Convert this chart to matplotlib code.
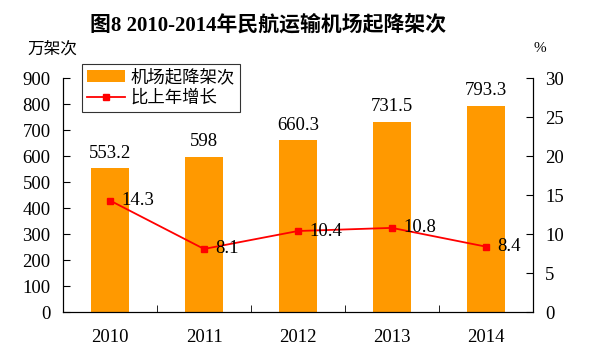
import matplotlib.pyplot as plt
import numpy as np

plt.rcParams['font.family'] = ['Liberation Serif', 'Noto Sans CJK SC']

years = ['2010', '2011', '2012', '2013', '2014']
flights = [553.2, 598, 660.3, 731.5, 793.3]
growth = [14.3, 8.1, 10.4, 10.8, 8.4]
flight_labels = ['553.2', '598', '660.3', '731.5', '793.3']

fig = plt.figure(figsize=(5.9, 3.58), dpi=100)
ax = fig.add_axes([0.107, 0.128, 0.796, 0.654])
ax2 = ax.twinx()

x = np.arange(len(years))
bars = ax.bar(x, flights, width=0.4, color='#FF9900', label='机场起降架次', zorder=2)
line, = ax2.plot(x, growth, color='#FF0000', marker='s', markersize=5, lw=1.3,
                 label='比上年增长', zorder=3)

ax.set_xlim(-0.5, 4.5)
ax.set_ylim(0, 900)
ax.set_yticks(range(0, 901, 100))
ax2.set_ylim(0, 30)
ax2.set_yticks(range(0, 31, 5))
ax.set_xticks(x)
ax.set_xticklabels(years)
ax.set_xticks(np.arange(0.5, 4.5, 1), minor=True)

ax.tick_params(axis='x', which='major', length=0, labelsize=13.5, pad=12)
ax.tick_params(axis='x', which='minor', length=5, direction='in')
ax.tick_params(axis='y', direction='in', length=5, labelsize=13.5, pad=9)
ax2.tick_params(axis='y', direction='in', length=5, labelsize=13.5, pad=9)

for a in (ax, ax2):
    a.spines['top'].set_visible(False)

for xi, v, s in zip(x, flights, flight_labels):
    ax.text(xi, v + 25, s, ha='center', va='bottom', fontsize=13.5)
for xi, v in zip(x, growth):
    ax2.text(xi + 0.12, v, str(v), ha='left', va='center', fontsize=13.5)

fig.text(0.455, 0.93, '图8 2010-2014年民航运输机场起降架次', ha='center', va='center',
         fontsize=15, fontweight='bold')
fig.text(0.088, 0.86, '万架次', ha='center', va='center', fontsize=12)
fig.text(0.915, 0.865, '%', ha='center', va='center', fontsize=11)

leg = ax.legend([bars, line], ['机场起降架次', '比上年增长'], loc='upper left',
                bbox_to_anchor=(0.04, 1.06), fontsize=12.5, frameon=True, fancybox=False,
                edgecolor='black', borderpad=0.3, labelspacing=0.25, handlelength=2.2,
                handletextpad=0.3, borderaxespad=0)
leg.get_frame().set_linewidth(0.8)

fig.savefig('out.png', dpi=100)
